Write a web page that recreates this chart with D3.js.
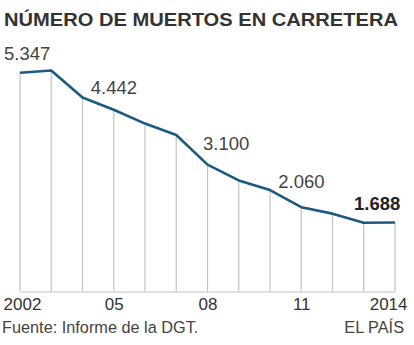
<!DOCTYPE html>
<html>
<head>
<meta charset="utf-8">
<script src="https://cdn.jsdelivr.net/npm/d3@7"></script>
<style>
  body { margin: 0; background: #fff; }
  svg { display: block; font-family: "Liberation Sans", Arial, sans-serif; }
</style>
</head>
<body>
<svg></svg>
<script>
const years = [2002, 2003, 2004, 2005, 2006, 2007, 2008, 2009, 2010, 2011, 2012, 2013, 2014]
const deaths = [5347, 5399, 4741, 4442, 4104, 3823, 3100, 2714, 2478, 2060, 1903, 1680, 1688]
const tickYears = [2002, 2005, 2008, 2011, 2014]
const tickLabels = ['2002', '05', '08', '11', '2014']
const labelYears = [2002, 2005, 2008, 2011, 2014]
const labelTexts = ['5.347', '4.442', '3.100', '2.060', '1.688']

const width = 414
const height = 345
const left = 20
const right = 395
const baseY = 291.5

let svg = d3.select('svg').attr('width', width).attr('height', height)

let xScale = d3.scaleLinear().domain([2002, 2014]).range([left, right])
let yScale = d3.scaleLinear().domain([0, 5347]).range([baseY, 72.7])

// title
svg.append('text')
    .attr('x', 4).attr('y', 26)
    .attr('font-size', 18.5).attr('font-weight', 'bold')
    .attr('fill', '#333')
    .attr('textLength', 394).attr('lengthAdjust', 'spacingAndGlyphs')
    .text('NÚMERO DE MUERTOS EN CARRETERA')

// drop lines
svg.selectAll('line.drop')
    .data(years)
    .enter()
    .append('line')
    .attr('class', 'drop')
    .attr('x1', d => xScale(d)).attr('x2', d => xScale(d))
    .attr('y1', baseY)
    .attr('y2', (d, i) => yScale(deaths[i]))
    .attr('stroke', '#c4c4c4').attr('stroke-width', 1.2)

// baseline axis
let xAxis = d3.axisBottom(xScale)
    .tickValues(tickYears)
    .tickSize(0)
    .tickPadding(7)
    .tickFormat((d, i) => tickLabels[i])

let gx = svg.append('g')
    .attr('transform', 'translate(0,' + baseY + ')')
    .call(xAxis)
gx.select('.domain').attr('stroke', '#c4c4c4').attr('stroke-width', 1.2)
gx.selectAll('text')
    .attr('font-size', 17).attr('fill', '#333')
    .attr('font-family', '"Liberation Sans", Arial, sans-serif')
    .attr('dy', '0.68em')
gx.selectAll('.tick').filter(d => d === 2002).select('text').attr('x', 2)
gx.selectAll('.tick').filter(d => d === 2014).select('text')
    .attr('text-anchor', 'end').attr('x', 12)

// line
let line = d3.line()
    .x((d, i) => xScale(years[i]))
    .y(d => yScale(d))

svg.append('path')
    .datum(deaths)
    .attr('d', line)
    .attr('fill', 'none')
    .attr('stroke', '#1d5a80')
    .attr('stroke-width', 2.6)
    .attr('stroke-linejoin', 'round')

// value labels
const labelDx = [-16, -23, -4.5, -23, -41]
const labelDy = [-12.5, -16, -14.5, -19.5, -12]
svg.selectAll('text.val')
    .data(labelYears)
    .enter()
    .append('text')
    .attr('class', 'val')
    .attr('x', (d, i) => xScale(d) + labelDx[i])
    .attr('y', (d, i) => yScale(deaths[years.indexOf(d)]) + labelDy[i])
    .attr('font-size', 18.5)
    .attr('font-weight', (d, i) => i === labelYears.length - 1 ? 'bold' : 'normal')
    .attr('fill', (d, i) => i === labelYears.length - 1 ? '#222' : '#444')
    .attr('text-anchor', 'start')
    .text((d, i) => labelTexts[i])

// footer
svg.append('text')
    .attr('x', 2).attr('y', 333)
    .attr('font-size', 16.3).attr('fill', '#444')
    .text('Fuente: Informe de la DGT.')
svg.append('text')
    .attr('x', 404).attr('y', 333)
    .attr('text-anchor', 'end')
    .attr('font-size', 16.3).attr('fill', '#444')
    .text('EL PAÍS')
</script>
</body>
</html>
